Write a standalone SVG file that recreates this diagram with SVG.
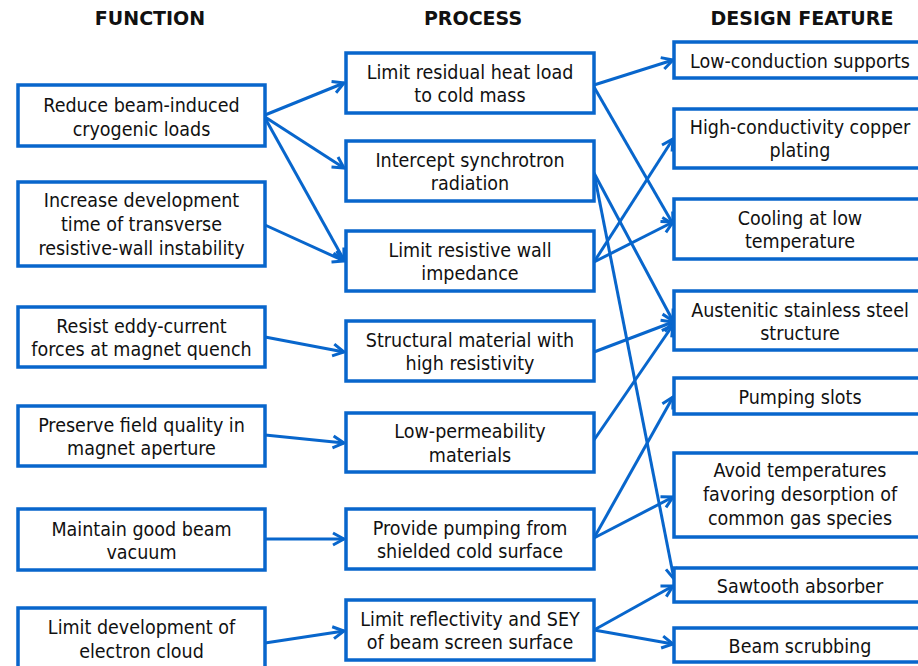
<svg xmlns="http://www.w3.org/2000/svg" width="918" height="666" viewBox="0 0 918 666">
<style>
.box{fill:#fff;stroke:#0866CC;stroke-width:3.5}
.t{font-family:"DejaVu Sans Condensed","DejaVu Sans",sans-serif;font-stretch:condensed;font-size:19.5px;fill:#111;text-anchor:middle}
.h{font-family:"DejaVu Sans",sans-serif;font-weight:bold;font-size:19px;fill:#111;text-anchor:middle}
.c{fill:none;stroke:#0866CC;stroke-width:3;marker-end:url(#arr)}
</style>
<defs>
<marker id="arr" markerUnits="userSpaceOnUse" markerWidth="16" markerHeight="16" viewBox="0 0 16 16" refX="13" refY="8" orient="auto">
<path d="M2,2 L13,8 L2,14" fill="none" stroke="#0866CC" stroke-width="3" stroke-linejoin="miter"/>
</marker>
</defs>
<g id="headers">
<text class="h" x="150" y="25">FUNCTION</text>
<text class="h" x="473" y="25">PROCESS</text>
<text class="h" x="802" y="25">DESIGN FEATURE</text>
</g>
<g id="connectors">
<line class="c" x1="265" y1="115" x2="344" y2="83"/>
<line class="c" x1="265" y1="117" x2="344" y2="168"/>
<line class="c" x1="265" y1="118" x2="344" y2="260"/>
<line class="c" x1="265" y1="225" x2="344" y2="261"/>
<line class="c" x1="265" y1="337" x2="344" y2="352"/>
<line class="c" x1="265" y1="435" x2="344" y2="443"/>
<line class="c" x1="265" y1="539" x2="344" y2="539"/>
<line class="c" x1="265" y1="643" x2="344" y2="631"/>
<line class="c" x1="594" y1="85" x2="673" y2="60"/>
<line class="c" x1="594" y1="87" x2="673" y2="224"/>
<line class="c" x1="594" y1="173" x2="673" y2="321"/>
<line class="c" x1="594" y1="173" x2="674" y2="579"/>
<line class="c" x1="594" y1="262" x2="673" y2="139"/>
<line class="c" x1="594" y1="262" x2="673" y2="222"/>
<line class="c" x1="594" y1="352" x2="673" y2="322"/>
<line class="c" x1="594" y1="440" x2="673" y2="325"/>
<line class="c" x1="594" y1="538" x2="673" y2="397"/>
<line class="c" x1="594" y1="538" x2="673" y2="497"/>
<line class="c" x1="594" y1="630" x2="673" y2="586"/>
<line class="c" x1="594" y1="630" x2="673" y2="644"/>
</g>
<g id="f1"><rect class="box" x="18" y="85" width="247" height="61"/><text class="t" x="141.5" y="112">Reduce beam-induced</text><text class="t" x="141.5" y="135.5">cryogenic loads</text></g>
<g id="f2"><rect class="box" x="18" y="182" width="247" height="84"/><text class="t" x="141.5" y="207">Increase development</text><text class="t" x="141.5" y="231">time of transverse</text><text class="t" x="141.5" y="255">resistive-wall instability</text></g>
<g id="f3"><rect class="box" x="18" y="307" width="247" height="60"/><text class="t" x="141.5" y="332.5">Resist eddy-current</text><text class="t" x="141.5" y="356">forces at magnet quench</text></g>
<g id="f4"><rect class="box" x="18" y="406" width="247" height="60"/><text class="t" x="141.5" y="431.5">Preserve field quality in</text><text class="t" x="141.5" y="455">magnet aperture</text></g>
<g id="f5"><rect class="box" x="18" y="509" width="247" height="61"/><text class="t" x="141.5" y="536">Maintain good beam</text><text class="t" x="141.5" y="559">vacuum</text></g>
<g id="f6"><rect class="box" x="18" y="608" width="247" height="64"/><text class="t" x="141.5" y="634">Limit development of</text><text class="t" x="141.5" y="657.5">electron cloud</text></g>
<g id="p1"><rect class="box" x="346" y="53" width="248" height="60"/><text class="t" x="470" y="79">Limit residual heat load</text><text class="t" x="470" y="102">to cold mass</text></g>
<g id="p2"><rect class="box" x="346" y="141" width="248" height="60"/><text class="t" x="470" y="167">Intercept synchrotron</text><text class="t" x="470" y="190">radiation</text></g>
<g id="p3"><rect class="box" x="346" y="231" width="248" height="60"/><text class="t" x="470" y="257">Limit resistive wall</text><text class="t" x="470" y="280">impedance</text></g>
<g id="p4"><rect class="box" x="346" y="321" width="248" height="60"/><text class="t" x="470" y="347">Structural material with</text><text class="t" x="470" y="370">high resistivity</text></g>
<g id="p5"><rect class="box" x="346" y="413" width="248" height="59"/><text class="t" x="470" y="438">Low-permeability</text><text class="t" x="470" y="461.5">materials</text></g>
<g id="p6"><rect class="box" x="346" y="509" width="248" height="60"/><text class="t" x="470" y="535">Provide pumping from</text><text class="t" x="470" y="558">shielded cold surface</text></g>
<g id="p7"><rect class="box" x="346" y="600" width="248" height="60"/><text class="t" x="470" y="625.5">Limit reflectivity and SEY</text><text class="t" x="470" y="648.5">of beam screen surface</text></g>
<g id="d1"><rect class="box" x="674" y="42" width="252" height="36"/><text class="t" x="800" y="68">Low-conduction supports</text></g>
<g id="d2"><rect class="box" x="674" y="109" width="252" height="59"/><text class="t" x="800" y="133.5">High-conductivity copper</text><text class="t" x="800" y="157">plating</text></g>
<g id="d3"><rect class="box" x="674" y="199" width="252" height="60"/><text class="t" x="800" y="224.5">Cooling at low</text><text class="t" x="800" y="248">temperature</text></g>
<g id="d4"><rect class="box" x="674" y="291" width="252" height="59"/><text class="t" x="800" y="317">Austenitic stainless steel</text><text class="t" x="800" y="340">structure</text></g>
<g id="d5"><rect class="box" x="674" y="378" width="252" height="36"/><text class="t" x="800" y="404">Pumping slots</text></g>
<g id="d6"><rect class="box" x="674" y="453" width="252" height="84"/><text class="t" x="800" y="477">Avoid temperatures</text><text class="t" x="800" y="501">favoring desorption of</text><text class="t" x="800" y="525">common gas species</text></g>
<g id="d7"><rect class="box" x="674" y="568" width="252" height="34"/><text class="t" x="800" y="593">Sawtooth absorber</text></g>
<g id="d8"><rect class="box" x="674" y="628" width="252" height="34"/><text class="t" x="800" y="653">Beam scrubbing</text></g>
</svg>
